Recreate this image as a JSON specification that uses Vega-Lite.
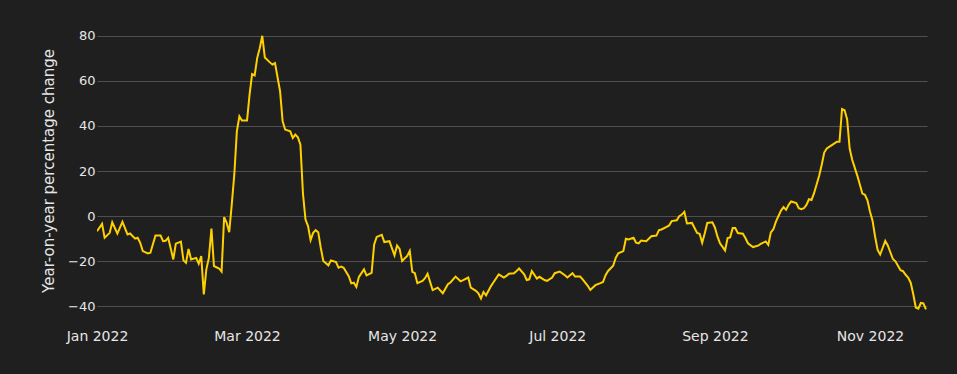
{
  "$schema": "https://vega.github.io/schema/vega-lite/v6.json",
  "autosize": "none",
  "width": 830,
  "height": 283,
  "padding": {"left": 97, "top": 29, "right": 30, "bottom": 62},
  "background": "#1f1f1f",
  "config": {
    "view": {"stroke": null},
    "font": "DejaVu Sans"
  },
  "data": {
    "values": [
      {"date": "2022-01-01", "change": -6.7},
      {"date": "2022-01-03", "change": -3.4},
      {"date": "2022-01-04", "change": -9.6},
      {"date": "2022-01-06", "change": -7.4},
      {"date": "2022-01-07", "change": -2.7},
      {"date": "2022-01-09", "change": -7.7},
      {"date": "2022-01-11", "change": -2.5},
      {"date": "2022-01-13", "change": -8.1},
      {"date": "2022-01-14", "change": -7.7},
      {"date": "2022-01-16", "change": -10.0},
      {"date": "2022-01-17", "change": -9.6},
      {"date": "2022-01-18", "change": -11.8},
      {"date": "2022-01-19", "change": -15.5},
      {"date": "2022-01-21", "change": -16.5},
      {"date": "2022-01-22", "change": -16.2},
      {"date": "2022-01-24", "change": -8.6},
      {"date": "2022-01-26", "change": -8.6},
      {"date": "2022-01-27", "change": -11.1},
      {"date": "2022-01-28", "change": -10.9},
      {"date": "2022-01-29", "change": -9.6},
      {"date": "2022-01-31", "change": -19.2},
      {"date": "2022-02-01", "change": -12.2},
      {"date": "2022-02-03", "change": -11.3},
      {"date": "2022-02-04", "change": -19.6},
      {"date": "2022-02-05", "change": -20.7},
      {"date": "2022-02-06", "change": -14.5},
      {"date": "2022-02-07", "change": -19.2},
      {"date": "2022-02-09", "change": -18.5},
      {"date": "2022-02-10", "change": -21.1},
      {"date": "2022-02-11", "change": -17.7},
      {"date": "2022-02-12", "change": -34.7},
      {"date": "2022-02-13", "change": -23.6},
      {"date": "2022-02-14", "change": -18.5},
      {"date": "2022-02-15", "change": -5.5},
      {"date": "2022-02-16", "change": -22.1},
      {"date": "2022-02-18", "change": -23.2},
      {"date": "2022-02-19", "change": -24.6},
      {"date": "2022-02-20", "change": -0.4},
      {"date": "2022-02-21", "change": -3.0},
      {"date": "2022-02-22", "change": -7.1},
      {"date": "2022-02-23", "change": 5.2},
      {"date": "2022-02-24", "change": 18.5},
      {"date": "2022-02-25", "change": 37.6},
      {"date": "2022-02-26", "change": 44.3},
      {"date": "2022-02-27", "change": 42.4},
      {"date": "2022-03-01", "change": 42.4},
      {"date": "2022-03-02", "change": 53.9},
      {"date": "2022-03-03", "change": 63.0},
      {"date": "2022-03-04", "change": 62.4},
      {"date": "2022-03-05", "change": 70.1},
      {"date": "2022-03-06", "change": 74.5},
      {"date": "2022-03-07", "change": 80.0},
      {"date": "2022-03-08", "change": 70.4},
      {"date": "2022-03-10", "change": 68.2},
      {"date": "2022-03-11", "change": 67.2},
      {"date": "2022-03-12", "change": 67.9},
      {"date": "2022-03-14", "change": 55.4},
      {"date": "2022-03-15", "change": 42.1},
      {"date": "2022-03-16", "change": 38.4},
      {"date": "2022-03-18", "change": 37.6},
      {"date": "2022-03-19", "change": 34.7},
      {"date": "2022-03-20", "change": 36.2},
      {"date": "2022-03-21", "change": 35.0},
      {"date": "2022-03-22", "change": 31.7},
      {"date": "2022-03-23", "change": 10.0},
      {"date": "2022-03-24", "change": -1.5},
      {"date": "2022-03-25", "change": -4.4},
      {"date": "2022-03-26", "change": -10.6},
      {"date": "2022-03-27", "change": -7.4},
      {"date": "2022-03-28", "change": -6.2},
      {"date": "2022-03-29", "change": -7.1},
      {"date": "2022-03-30", "change": -14.0},
      {"date": "2022-03-31", "change": -19.9},
      {"date": "2022-04-02", "change": -21.8},
      {"date": "2022-04-03", "change": -19.6},
      {"date": "2022-04-05", "change": -20.4},
      {"date": "2022-04-06", "change": -22.9},
      {"date": "2022-04-07", "change": -22.4},
      {"date": "2022-04-08", "change": -22.9},
      {"date": "2022-04-10", "change": -26.6},
      {"date": "2022-04-11", "change": -29.8},
      {"date": "2022-04-12", "change": -29.5},
      {"date": "2022-04-13", "change": -31.4},
      {"date": "2022-04-14", "change": -26.9},
      {"date": "2022-04-16", "change": -23.6},
      {"date": "2022-04-17", "change": -26.3},
      {"date": "2022-04-19", "change": -25.1},
      {"date": "2022-04-20", "change": -12.5},
      {"date": "2022-04-21", "change": -9.2},
      {"date": "2022-04-23", "change": -8.3},
      {"date": "2022-04-24", "change": -11.5},
      {"date": "2022-04-26", "change": -11.1},
      {"date": "2022-04-28", "change": -17.4},
      {"date": "2022-04-29", "change": -13.0},
      {"date": "2022-04-30", "change": -14.5},
      {"date": "2022-05-01", "change": -19.9},
      {"date": "2022-05-03", "change": -17.6},
      {"date": "2022-05-04", "change": -15.4},
      {"date": "2022-05-05", "change": -24.7},
      {"date": "2022-05-06", "change": -25.3},
      {"date": "2022-05-07", "change": -29.7},
      {"date": "2022-05-09", "change": -28.7},
      {"date": "2022-05-10", "change": -27.5},
      {"date": "2022-05-11", "change": -25.5},
      {"date": "2022-05-13", "change": -32.8},
      {"date": "2022-05-15", "change": -31.7},
      {"date": "2022-05-17", "change": -34.2},
      {"date": "2022-05-19", "change": -30.2},
      {"date": "2022-05-20", "change": -29.4},
      {"date": "2022-05-22", "change": -26.8},
      {"date": "2022-05-24", "change": -28.9},
      {"date": "2022-05-25", "change": -28.4},
      {"date": "2022-05-27", "change": -27.2},
      {"date": "2022-05-28", "change": -31.7},
      {"date": "2022-05-30", "change": -33.1},
      {"date": "2022-05-31", "change": -34.2},
      {"date": "2022-06-01", "change": -36.5},
      {"date": "2022-06-02", "change": -33.6},
      {"date": "2022-06-03", "change": -35.1},
      {"date": "2022-06-05", "change": -30.9},
      {"date": "2022-06-06", "change": -29.2},
      {"date": "2022-06-08", "change": -25.8},
      {"date": "2022-06-10", "change": -27.2},
      {"date": "2022-06-11", "change": -26.5},
      {"date": "2022-06-12", "change": -25.5},
      {"date": "2022-06-14", "change": -25.3},
      {"date": "2022-06-15", "change": -24.3},
      {"date": "2022-06-16", "change": -23.2},
      {"date": "2022-06-18", "change": -25.8},
      {"date": "2022-06-19", "change": -28.3},
      {"date": "2022-06-20", "change": -28.0},
      {"date": "2022-06-21", "change": -24.3},
      {"date": "2022-06-23", "change": -27.7},
      {"date": "2022-06-24", "change": -26.9},
      {"date": "2022-06-26", "change": -28.3},
      {"date": "2022-06-27", "change": -28.7},
      {"date": "2022-06-29", "change": -27.2},
      {"date": "2022-06-30", "change": -25.3},
      {"date": "2022-07-02", "change": -24.6},
      {"date": "2022-07-04", "change": -26.2},
      {"date": "2022-07-05", "change": -27.2},
      {"date": "2022-07-07", "change": -25.3},
      {"date": "2022-07-08", "change": -26.8},
      {"date": "2022-07-10", "change": -26.8},
      {"date": "2022-07-11", "change": -28.0},
      {"date": "2022-07-13", "change": -30.9},
      {"date": "2022-07-14", "change": -32.7},
      {"date": "2022-07-16", "change": -30.6},
      {"date": "2022-07-18", "change": -29.7},
      {"date": "2022-07-19", "change": -29.2},
      {"date": "2022-07-20", "change": -26.2},
      {"date": "2022-07-21", "change": -24.3},
      {"date": "2022-07-23", "change": -22.0},
      {"date": "2022-07-24", "change": -18.5},
      {"date": "2022-07-25", "change": -16.5},
      {"date": "2022-07-27", "change": -15.5},
      {"date": "2022-07-28", "change": -10.0},
      {"date": "2022-07-29", "change": -10.3},
      {"date": "2022-07-31", "change": -9.6},
      {"date": "2022-08-01", "change": -11.8},
      {"date": "2022-08-02", "change": -12.1},
      {"date": "2022-08-03", "change": -10.8},
      {"date": "2022-08-05", "change": -11.1},
      {"date": "2022-08-06", "change": -10.0},
      {"date": "2022-08-07", "change": -8.9},
      {"date": "2022-08-09", "change": -8.6},
      {"date": "2022-08-10", "change": -6.2},
      {"date": "2022-08-11", "change": -5.9},
      {"date": "2022-08-13", "change": -4.7},
      {"date": "2022-08-14", "change": -4.1},
      {"date": "2022-08-15", "change": -2.2},
      {"date": "2022-08-17", "change": -1.8},
      {"date": "2022-08-18", "change": 0.0},
      {"date": "2022-08-19", "change": 0.7},
      {"date": "2022-08-20", "change": 1.9},
      {"date": "2022-08-21", "change": -3.2},
      {"date": "2022-08-23", "change": -3.0},
      {"date": "2022-08-25", "change": -7.4},
      {"date": "2022-08-26", "change": -7.8},
      {"date": "2022-08-27", "change": -11.8},
      {"date": "2022-08-28", "change": -7.7},
      {"date": "2022-08-29", "change": -3.0},
      {"date": "2022-08-31", "change": -2.7},
      {"date": "2022-09-01", "change": -5.0},
      {"date": "2022-09-02", "change": -9.0},
      {"date": "2022-09-03", "change": -12.0},
      {"date": "2022-09-05", "change": -15.2},
      {"date": "2022-09-06", "change": -9.7},
      {"date": "2022-09-07", "change": -9.4},
      {"date": "2022-09-08", "change": -5.3},
      {"date": "2022-09-09", "change": -5.3},
      {"date": "2022-09-10", "change": -7.5},
      {"date": "2022-09-12", "change": -7.8},
      {"date": "2022-09-13", "change": -9.7},
      {"date": "2022-09-14", "change": -12.0},
      {"date": "2022-09-16", "change": -13.7},
      {"date": "2022-09-18", "change": -13.1},
      {"date": "2022-09-19", "change": -12.3},
      {"date": "2022-09-21", "change": -11.2},
      {"date": "2022-09-22", "change": -12.7},
      {"date": "2022-09-23", "change": -7.2},
      {"date": "2022-09-24", "change": -5.8},
      {"date": "2022-09-25", "change": -2.4},
      {"date": "2022-09-27", "change": 2.5},
      {"date": "2022-09-28", "change": 4.0},
      {"date": "2022-09-29", "change": 2.8},
      {"date": "2022-09-30", "change": 5.0},
      {"date": "2022-10-01", "change": 6.5},
      {"date": "2022-10-03", "change": 5.8},
      {"date": "2022-10-04", "change": 3.5},
      {"date": "2022-10-05", "change": 3.1},
      {"date": "2022-10-06", "change": 3.5},
      {"date": "2022-10-07", "change": 5.0},
      {"date": "2022-10-08", "change": 7.5},
      {"date": "2022-10-09", "change": 7.2},
      {"date": "2022-10-10", "change": 10.2},
      {"date": "2022-10-12", "change": 17.9},
      {"date": "2022-10-13", "change": 22.7},
      {"date": "2022-10-14", "change": 28.2},
      {"date": "2022-10-15", "change": 30.0},
      {"date": "2022-10-17", "change": 31.5},
      {"date": "2022-10-19", "change": 33.0},
      {"date": "2022-10-20", "change": 33.0},
      {"date": "2022-10-21", "change": 47.5},
      {"date": "2022-10-22", "change": 47.0},
      {"date": "2022-10-23", "change": 43.0},
      {"date": "2022-10-24", "change": 30.0},
      {"date": "2022-10-25", "change": 25.0},
      {"date": "2022-10-27", "change": 18.0},
      {"date": "2022-10-28", "change": 14.0},
      {"date": "2022-10-29", "change": 10.0},
      {"date": "2022-10-30", "change": 9.5},
      {"date": "2022-10-31", "change": 7.0},
      {"date": "2022-11-01", "change": 2.0},
      {"date": "2022-11-02", "change": -2.0},
      {"date": "2022-11-03", "change": -9.0},
      {"date": "2022-11-04", "change": -15.0},
      {"date": "2022-11-05", "change": -17.0},
      {"date": "2022-11-06", "change": -14.0},
      {"date": "2022-11-07", "change": -11.0},
      {"date": "2022-11-08", "change": -13.0},
      {"date": "2022-11-09", "change": -16.0},
      {"date": "2022-11-10", "change": -19.0},
      {"date": "2022-11-11", "change": -20.0},
      {"date": "2022-11-12", "change": -22.0},
      {"date": "2022-11-13", "change": -24.0},
      {"date": "2022-11-14", "change": -24.4},
      {"date": "2022-11-15", "change": -26.0},
      {"date": "2022-11-16", "change": -27.2},
      {"date": "2022-11-17", "change": -29.5},
      {"date": "2022-11-18", "change": -34.5},
      {"date": "2022-11-19", "change": -40.5},
      {"date": "2022-11-20", "change": -41.0},
      {"date": "2022-11-21", "change": -38.5},
      {"date": "2022-11-22", "change": -38.7},
      {"date": "2022-11-23", "change": -41.3}
    ]
  },
  "mark": {"type": "line", "color": "#ffd000", "strokeWidth": 2, "clip": true},
  "encoding": {
    "x": {
      "field": "date",
      "type": "temporal",
      "scale": {
        "type": "utc",
        "domain": [
          {"year": 2022, "month": 1, "date": 1, "utc": true},
          {"year": 2022, "month": 11, "date": 23, "hours": 10, "utc": true}
        ],
        "nice": false
      },
      "axis": {
        "title": null,
        "values": [
          {"year": 2022, "month": 1, "date": 1, "utc": true},
          {"year": 2022, "month": 3, "date": 1, "utc": true},
          {"year": 2022, "month": 5, "date": 1, "utc": true},
          {"year": 2022, "month": 7, "date": 1, "utc": true},
          {"year": 2022, "month": 9, "date": 1, "utc": true},
          {"year": 2022, "month": 11, "date": 1, "utc": true}
        ],
        "format": "%b %Y",
        "labelFlush": false,
        "labelOverlap": false,
        "labelFontSize": 14,
        "labelColor": "#e6e6e6",
        "labelPadding": 17,
        "ticks": false,
        "domain": false,
        "grid": false
      }
    },
    "y": {
      "field": "change",
      "type": "quantitative",
      "scale": {"domain": [-42.5, 83], "nice": false, "zero": false},
      "axis": {
        "title": "Year-on-year percentage change",
        "titleColor": "#e6e6e6",
        "titleFontSize": 15,
        "titleFontWeight": "normal",
        "titlePadding": 11,
        "values": [-40, -20, 0, 20, 40, 60, 80],
        "labelFontSize": 13,
        "labelColor": "#e6e6e6",
        "labelPadding": 2,
        "ticks": false,
        "domain": false,
        "grid": true,
        "gridColor": "#4f4f4f",
        "gridWidth": 1
      }
    }
  }
}
